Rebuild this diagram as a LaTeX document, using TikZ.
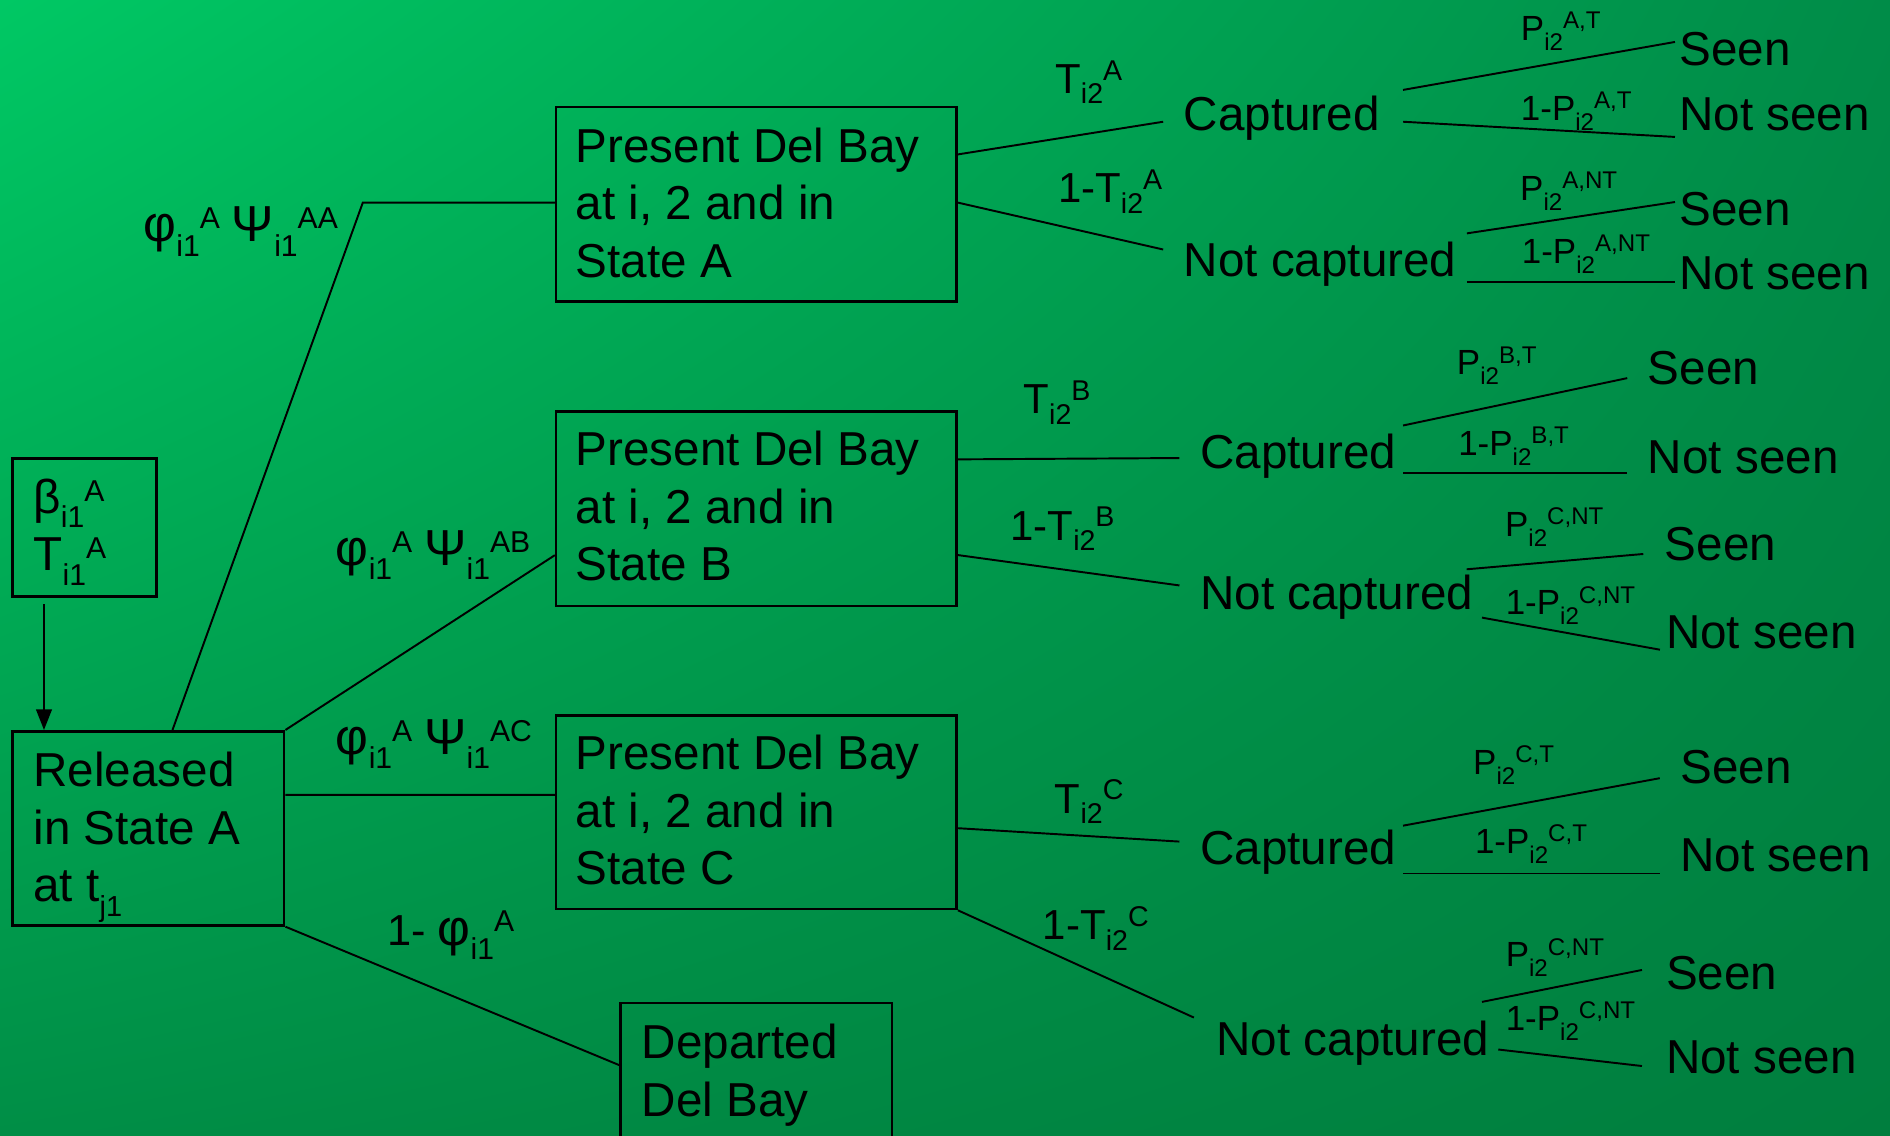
\documentclass[tikz,border=0pt]{standalone}
\usepackage{fontspec}
\setmainfont{Liberation Sans}
\usetikzlibrary{arrows.meta,shadings}
\definecolor{bgUL}{RGB}{0,200,100}
\definecolor{bgUR}{RGB}{0,140,72}
\definecolor{bgLL}{RGB}{0,142,70}
\definecolor{bgLR}{RGB}{0,126,62}
\newcommand\Lo[3]{\raisebox{-#1pt}{\fontsize{#2}{#2}\selectfont #3}}
\newcommand\Hi[3]{\raisebox{#1pt}{\fontsize{#2}{#2}\selectfont #3}}
\newcommand\TL[2]{#1\Lo{8.8}{23.7}{i2}\Hi{11}{23.7}{#2}}
\newcommand\PL[2]{#1\Lo{8.3}{20}{i2}\Hi{9.7}{20}{#2}}
\newcommand\BS[1]{#1\Lo{12}{25}{i1}\Hi{10}{25}{A}}
\newcommand\GK[2]{{\fontsize{42}{42}\selectfont #1}\Lo{11.9}{25}{i1}\Hi{11}{25}{#2}}
\begin{document}
\begin{tikzpicture}[x=1pt,y=-1pt,
  box/.style={draw=black, line width=2.2pt, inner sep=0pt, anchor=north west},
  btext/.style={inner sep=0pt, anchor=north west, align=left, font=\fontsize{39.5}{47.7}\selectfont},
  big/.style={inner sep=0pt, anchor=base west, font=\fontsize{39.5}{47.7}\selectfont},
  tlab/.style={inner sep=0pt, anchor=base west, font=\fontsize{34.8}{40}\selectfont},
  plab/.style={inner sep=0pt, anchor=base west, font=\fontsize{29}{34}\selectfont},
  glab/.style={inner sep=0pt, anchor=base west, font=\fontsize{36}{42}\selectfont},
  conn/.style={draw=black, line width=1.6pt},
  arr/.style={draw=black, line width=1.5pt, -{Triangle[length=17pt,width=13pt]}}
]
\shade[upper left=bgUL, upper right=bgUR, lower left=bgLL, lower right=bgLR] (0,0) rectangle (1568,942);
\useasboundingbox (0,0) rectangle (1568,942);

% boxes
\node[box, minimum width=119.8pt, minimum height=114.2pt] (beta) at (9.1,379.4) {};
\node[box, minimum width=225.5pt, minimum height=161pt] (rel) at (9.1,605.6) {};
\node[box, minimum width=332.2pt, minimum height=161.6pt] (pa) at (460.3,87.6) {};
\node[box, minimum width=332.2pt, minimum height=161.3pt] (pb) at (460.3,340.4) {};
\node[box, minimum width=332.2pt, minimum height=160.7pt] (pc) at (460.3,592.3) {};
\node[box, minimum width=225.4pt, minimum height=150pt] (dep) at (513.6,831) {};

% box texts
\node[btext] (betaT) at ([shift={(18.5,14.2)}]beta.north west) {\rule{0pt}{32pt}\BS{β}\\\BS{T}};
\node[btext] (relT) at ([shift={(18.5,15)}]rel.north west) {\rule{0pt}{32pt}Released\\in State A\\at t\Lo{12}{24}{j1}};
\node[btext] (paT) at ([shift={(17.2,15)}]pa.north west) {\rule{0pt}{32pt}Present Del Bay\\at i, 2 and in\\State A};
\node[btext] (pbT) at ([shift={(17.2,14)}]pb.north west) {\rule{0pt}{32pt}Present Del Bay\\at i, 2 and in\\State B};
\node[btext] (pcT) at ([shift={(17.2,14.3)}]pc.north west) {\rule{0pt}{32pt}Present Del Bay\\at i, 2 and in\\State C};
\node[btext] (depT) at ([shift={(18.8,15.3)}]dep.north west) {\rule{0pt}{32pt}Departed\\Del Bay};

% left labels
\node[glab] (lAA) at (118.9,200.5) {\GK{φ}{A} \GK{Ψ}{AA}};
\node[glab] (lAB) at (278.5,469) {\GK{φ}{A} \GK{Ψ}{AB}};
\node[glab] (lAC) at (278.5,625.9) {\GK{φ}{A} \GK{Ψ}{AC}};
\node[glab] (lD) at (321,784) {1- \GK{φ}{A}};

% right column texts
\node[big] (capA) at (982,108) {Captured};
\node[big] (ncA) at (982,229.5) {Not captured};
\node[big] (sA1) at (1393,54) {Seen};
\node[big] (nsA1) at (1393,108) {Not seen};
\node[big] (sA2) at (1393,187) {Seen};
\node[big] (nsA2) at (1393,240) {Not seen};
\node[big] (capB) at (995.7,389) {Captured};
\node[big] (ncB) at (995.7,505.6) {Not captured};
\node[big] (sB1) at (1367,319) {Seen};
\node[big] (nsB1) at (1367,393) {Not seen};
\node[big] (sB2) at (1381,464.6) {Seen};
\node[big] (nsB2) at (1382,537.6) {Not seen};
\node[big] (capC) at (995.7,717) {Captured};
\node[big] (ncC) at (1009,876) {Not captured};
\node[big] (sC1) at (1394,650) {Seen};
\node[big] (nsC1) at (1394,723) {Not seen};
\node[big] (sC2) at (1382,820.5) {Seen};
\node[big] (nsC2) at (1382,890.5) {Not seen};

% T labels
\node[tlab] (tA) at (875.3,77.4) {\TL{T}{A}};
\node[tlab] (tA1) at (877.6,168.3) {\TL{1-T}{A}};
\node[tlab] (tB) at (849,343) {\TL{T}{B}};
\node[tlab] (tB1) at (838,448) {\TL{1-T}{B}};
\node[tlab] (tC) at (875,674.5) {\TL{T}{C}};
\node[tlab] (tC1) at (865,779.4) {\TL{1-T}{C}};

% P labels
\node[plab] (pAT) at (1261.6,33.2) {\PL{P}{A,T}};
\node[plab] (pAT1) at (1261.6,99.6) {\PL{1-P}{A,T}};
\node[plab] (pANT) at (1261,166) {\PL{P}{A,NT}};
\node[plab] (pANT1) at (1262.4,218.4) {\PL{1-P}{A,NT}};
\node[plab] (pBT) at (1208.5,311) {\PL{P}{B,T}};
\node[plab] (pBT1) at (1209.6,377.5) {\PL{1-P}{B,T}};
\node[plab] (pBNT) at (1248.5,445) {\PL{P}{C,NT}};
\node[plab] (pBNT1) at (1249,510) {\PL{1-P}{C,NT}};
\node[plab] (pCT) at (1222,642.5) {\PL{P}{C,T}};
\node[plab] (pCT1) at (1223.5,708) {\PL{1-P}{C,T}};
\node[plab] (pCNT) at (1249,802) {\PL{P}{C,NT}};
\node[plab] (pCNT1) at (1249,855) {\PL{1-P}{C,NT}};

% left connectors
\draw[arr] ([shift={(-33.6,5.4)}]beta.south) -- ([shift={(-86.45,0)}]rel.north);
\draw[conn] ([shift={(20.15,0)}]rel.north) -- ([shift={(-159.3,-1.4)}]pa.west) -- ([shift={(0,-1.4)}]pa.west);
\draw[conn] (rel.north east) -- ([shift={(0,38.45)}]pb.west);
\draw[conn] ([shift={(0,-27.7)}]rel.east) -- ([shift={(0,-14.25)}]pc.west);
\draw[conn] (rel.south east) -- ([shift={(0,52.6)}]dep.north west);

% group A
\draw[conn] ([shift={(0,-41.4)}]pa.east) -- ([shift={(-17,-7)}]capA.base west);
\draw[conn] ([shift={(0,-1.4)}]pa.east) -- ([shift={(-17,-22.5)}]ncA.base west);
\draw[conn] ([shift={(182,-33.4)}]capA.base west) -- ([shift={(-3.4,-19.2)}]sA1.base west);
\draw[conn] ([shift={(182,-7)}]capA.base west) -- ([shift={(-3.4,5.6)}]nsA1.base west);
\draw[conn] ([shift={(235,-35.9)}]ncA.base west) -- ([shift={(-3.4,-19.4)}]sA2.base west);
\draw[conn] ([shift={(235,4.5)}]ncA.base west) -- ([shift={(-3.4,-6)}]nsA2.base west);

% group B
\draw[conn] ([shift={(0,-41.05)}]pb.east) -- ([shift={(-17.2,-9)}]capB.base west);
\draw[conn] ([shift={(0,38.35)}]pb.east) -- ([shift={(-17.2,-19.9)}]ncB.base west);
\draw[conn] ([shift={(168.3,-36)}]capB.base west) -- ([shift={(-17,-5.3)}]sB1.base west);
\draw[conn] ([shift={(168.3,3.7)}]capB.base west) -- ([shift={(-17,-0.3)}]nsB1.base west);
\draw[conn] ([shift={(221.1,-33.3)}]ncB.base west) -- ([shift={(-17.7,-5)}]sB2.base west);
\draw[conn] ([shift={(233.8,6.8)}]ncB.base west) -- ([shift={(-4.9,1.4)}]nsB2.base west);

% group C
\draw[conn] ([shift={(0,13.35)}]pc.east) -- ([shift={(-17.2,-18.8)}]capC.base west);
\draw[conn] (pc.south east) -- ([shift={(-18.5,-31.8)}]ncC.base west);
\draw[conn] ([shift={(168.3,-32)}]capC.base west) -- ([shift={(-17,-4.4)}]sC1.base west);
\draw[conn] ([shift={(168.3,7.7)}]capC.base west) -- ([shift={(-17,1.7)}]nsC1.base west);
\draw[conn] ([shift={(220.5,-44.8)}]ncC.base west) -- ([shift={(-19.8,-15.8)}]sC2.base west);
\draw[conn] ([shift={(234,-5.3)}]ncC.base west) -- ([shift={(-19.8,-6.1)}]nsC2.base west);
\end{tikzpicture}
\end{document}
